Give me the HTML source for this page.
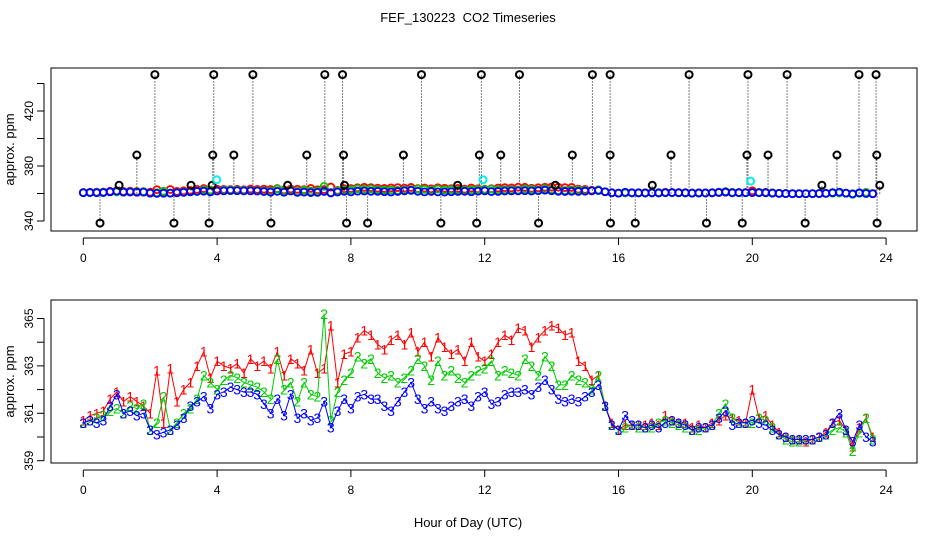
<!DOCTYPE html>
<html><head><meta charset="utf-8"><style>
body{margin:0;background:#fff}
svg{display:block;font-family:"Liberation Sans",sans-serif}
</style></head><body>
<svg id="chart" width="936" height="540" viewBox="0 0 936 540">
<text x="468" y="22" text-anchor="middle" font-size="13">FEF_130223 &#160;CO2 Timeseries</text>
<text x="468" y="527" text-anchor="middle" font-size="13">Hour of Day (UTC)</text>
<g id="topPanel"></g>
<g id="botPanel"></g>
</svg>
<script>
const xTicks=[0,4,8,12,16,20,24];
const topYTicks=[340,360,380,400,420,440];
const topYLabels=[340,380,420];
const botYTicks=[359,360,361,362,363,364,365];
const botYLabels=[359,361,363,365];
const times=[];for(let i=0;i<119;i++)times.push(+(i*0.2).toFixed(1));
const series1=[360.7,360.9,361.0,361.1,361.6,361.9,361.5,361.7,361.5,361.3,361.0,362.8,360.6,362.9,361.5,362.0,362.3,363.0,363.6,362.5,363.2,363.0,362.9,363.1,362.7,363.3,363.0,363.2,362.9,363.6,362.6,363.3,363.1,362.8,363.7,362.7,362.9,364.7,362.3,363.5,363.6,364.2,364.5,364.3,363.9,363.7,364.1,364.3,363.9,364.4,363.6,364.0,363.4,364.2,363.8,363.5,363.7,363.2,364.0,363.4,363.2,363.5,364.0,364.3,364.1,364.6,364.5,363.8,364.2,364.5,364.7,364.6,364.3,364.4,363.2,363.0,362.4,362.6,361.3,360.6,360.3,360.5,360.5,360.5,360.5,360.6,360.5,360.9,360.7,360.6,360.6,360.4,360.5,360.4,360.6,360.7,360.9,360.8,360.7,360.6,362.0,360.8,360.9,360.5,360.2,360.0,359.9,359.9,359.8,359.9,360.0,360.2,360.6,360.7,360.3,359.6,360.4,360.8,360.0];
const series2=[360.6,360.7,360.8,360.9,361.1,361.2,361.0,361.3,361.2,361.4,360.3,360.6,361.7,360.3,360.6,361.0,361.2,361.6,362.6,362.3,362.0,362.4,362.6,362.5,362.3,362.2,362.1,361.9,361.6,363.3,362.0,362.3,361.5,362.3,361.8,361.7,365.2,360.7,361.9,362.4,362.7,363.4,363.1,363.3,362.7,362.5,362.6,362.3,362.5,362.8,363.3,363.0,362.4,363.2,362.6,362.8,362.5,362.3,362.6,362.8,362.9,363.2,362.6,362.8,362.7,362.6,363.3,363.0,362.6,363.4,363.0,362.2,362.2,362.6,362.4,362.3,362.0,362.6,361.3,360.5,360.3,360.4,360.5,360.4,360.4,360.4,360.6,360.7,360.6,360.5,360.4,360.3,360.3,360.4,360.5,361.0,361.4,360.8,360.6,360.6,360.6,360.8,360.7,360.4,360.1,359.9,359.8,359.8,359.9,359.9,360.0,360.1,360.3,360.4,360.2,359.4,360.2,360.8,359.9];
const series3=[360.6,360.7,360.6,360.7,361.3,361.8,361.0,361.1,360.9,361.0,360.3,360.1,360.2,360.3,360.5,360.8,361.3,361.5,361.7,361.2,361.8,361.9,362.1,362.0,361.9,361.9,361.8,361.4,361.0,361.6,360.9,361.8,360.8,361.0,360.7,360.8,361.5,360.4,361.1,361.6,361.2,361.7,361.8,361.6,361.6,361.3,361.1,361.5,361.9,362.3,361.6,361.2,361.5,361.2,361.1,361.3,361.5,361.6,361.3,361.7,361.9,361.4,361.5,361.8,361.9,361.9,362.0,361.8,362.1,362.4,362.0,361.6,361.5,361.6,361.5,361.7,361.9,362.2,361.3,360.5,360.3,360.9,360.5,360.5,360.4,360.5,360.4,360.6,360.7,360.6,360.5,360.3,360.4,360.4,360.5,360.8,361.1,360.5,360.6,360.6,360.7,360.6,360.5,360.3,360.1,360.0,359.9,359.9,359.9,359.9,360.0,360.1,360.6,361.0,360.3,359.8,360.5,360.0,359.8];
const outlierHours=[2.14,3.9,5.07,7.22,7.75,10.11,11.9,13.04,15.22,15.75,18.11,19.87,21.04,23.19,23.7,1.6,3.87,4.5,6.68,7.78,9.57,11.84,12.48,14.62,15.75,17.57,19.84,20.47,22.53,23.72,1.07,3.22,3.85,6.11,7.81,11.19,14.11,17.01,22.08,23.81,0.5,2.71,3.76,5.61,7.87,8.5,10.69,11.76,13.61,15.76,16.5,18.63,19.7,21.58,23.73];
const outlierValues=[446.5,446.5,446.5,446.5,446.5,446.5,446.5,446.5,446.5,446.5,446.5,446.5,446.5,446.5,446.5,388,388,388,388,388,388,388,388,388,388,388,388,388,388,388,366,366,366,366,366,366,366,366,366,366,338.5,338.5,338.5,338.5,338.5,338.5,338.5,338.5,338.5,338.5,338.5,338.5,338.5,338.5,338.5];
const cyanHours=[3.99,11.95,19.95];
const cyanValues=[370,370,369];

const NS="http://www.w3.org/2000/svg";
function mk(p,t,a){const e=document.createElementNS(NS,t);for(const k in a)e.setAttribute(k,a[k]);p.appendChild(e);return e;}
const X=h=>83.3+h*33.45;
const L=51,R=917;
function frame(g,y0,y1,yf,yt,yl){
  const r=mk(g,'rect',{x:L,y:y0,width:R-L,height:y1-y0,fill:'none',stroke:'#000'});
  
  
  mk(g,'line',{x1:X(0),x2:X(24),y1:y1+7,y2:y1+7,stroke:'#000'});
  xTicks.forEach(t=>{
    mk(g,'line',{x1:X(t),x2:X(t),y1:y1+7,y2:y1+14,stroke:'#000'});
    const tx=mk(g,'text',{x:X(t),y:y1+31,'text-anchor':'middle','font-size':12});
    tx.textContent=t;
    
    
  });
  mk(g,'line',{x1:44,x2:44,y1:yf(yt[0]),y2:yf(yt[yt.length-1]),stroke:'#000'});
  yt.forEach(t=>mk(g,'line',{x1:37,x2:44,y1:yf(t),y2:yf(t),stroke:'#000'}));
  yl.forEach(t=>{
    const tx=mk(g,'text',{x:0,y:0,'text-anchor':'middle','font-size':12,transform:`translate(33,${yf(t)}) rotate(-90)`});
    tx.textContent=t;
    
    
  });
  const yt2=mk(g,'text',{x:0,y:0,'text-anchor':'middle','font-size':13,transform:`translate(14,${(y0+y1)/2}) rotate(-90)`});
  yt2.textContent='approx. ppm';
  
  
}
// top panel
const topG=document.getElementById('topPanel');
const YT=v=>221-(v-340)*1.375;
frame(topG,68,231,YT,topYTicks,topYLabels);
outlierHours.forEach((h,i)=>{
  const ln=mk(topG,'line',{x1:X(h),x2:X(h),y1:YT(360),y2:YT(outlierValues[i]),stroke:'#000','stroke-dasharray':'1,2'});
  
  
});
[[series1,'#f00'],[series2,'#0c0'],[series3,'#00f']].forEach(([s,c])=>{
  s.forEach((v,i)=>{
    const ci=mk(topG,'circle',{cx:X(times[i]),cy:YT(v),r:3.5,fill:'none',stroke:c,'stroke-width':1.8});
    
    
  });
});
outlierHours.forEach((h,i)=>{
  const ci=mk(topG,'circle',{cx:X(h),cy:YT(outlierValues[i]),r:3.5,fill:'none',stroke:'#000','stroke-width':2});
  
  
});
cyanHours.forEach((h,i)=>{
  const ci=mk(topG,'circle',{cx:X(h),cy:YT(cyanValues[i]),r:3.5,fill:'none',stroke:'#0ee','stroke-width':2});
  
  
});
// bottom panel
const botG=document.getElementById('botPanel');
const YB=v=>413.3-(v-361)*23.7;
frame(botG,300,463,YB,botYTicks,botYLabels);
[[series1,'#f00','1'],[series2,'#0c0','2'],[series3,'#00f','3']].forEach(([s,c,lab])=>{
  const pl=mk(botG,'polyline',{points:s.map((v,i)=>X(times[i])+','+YB(v)).join(' '),fill:'none',stroke:c,'stroke-width':1});
  
  
  s.forEach((v,i)=>{
    const t=mk(botG,'text',{x:X(times[i]),y:YB(v)+5,'text-anchor':'middle','font-size':14,fill:c});
    t.textContent=lab;
    
    
  });
});
</script>
</body></html>
